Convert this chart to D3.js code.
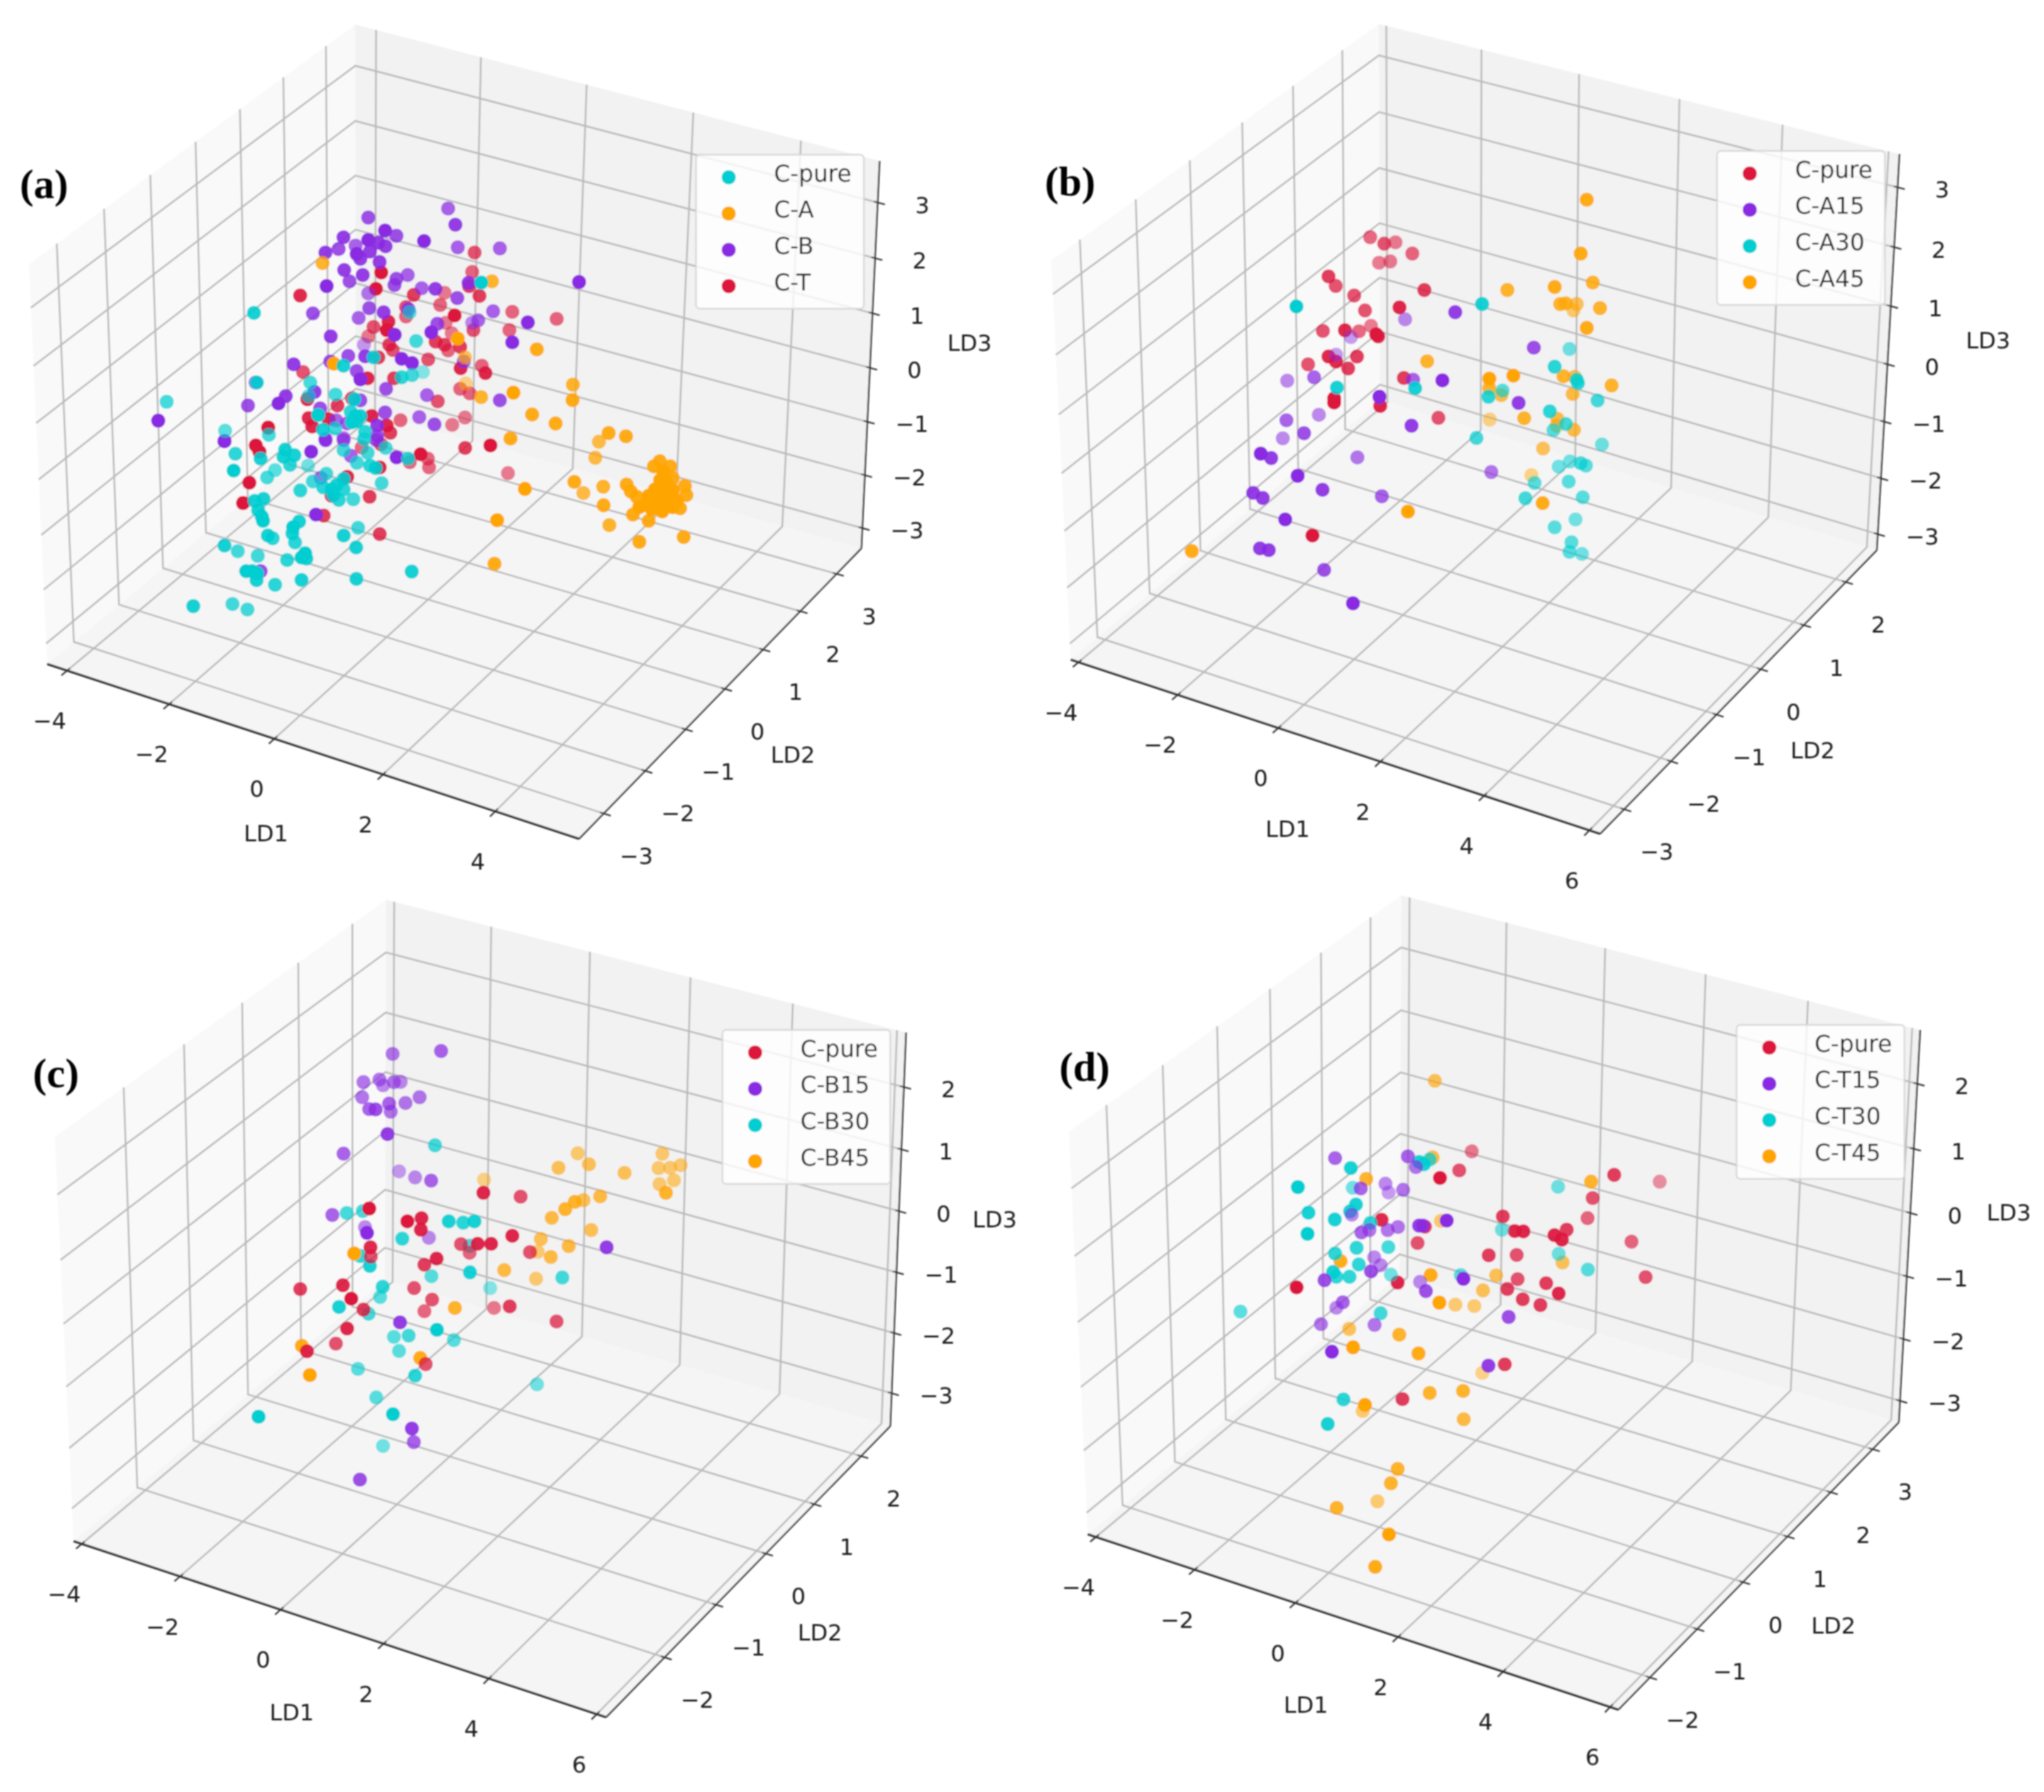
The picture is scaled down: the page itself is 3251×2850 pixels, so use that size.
<!DOCTYPE html>
<html>
<head>
<meta charset="utf-8">
<script src="https://cdn.jsdelivr.net/npm/d3@7"></script>
<style>
  html, body { margin: 0; background: #fff; }
  text { font-family: "DejaVu Sans", sans-serif; fill: #1c1c1c; }
</style>
</head>
<body>
<div id="chart"></div>
<script>
// tick values of each panel
var ld1TicksA = [-4, -2, 0, 2, 4];
var ld1TicksRest = [-4, -2, 0, 2, 4, 6];
var ld2TicksA = [-3, -2, -1, 0, 1, 2, 3];
var ld2TicksB = [-3, -2, -1, 0, 1, 2];
var ld2TicksC = [-2, -1, 0, 1, 2];
var ld2TicksD = [-2, -1, 0, 1, 2, 3];
var ld3TicksAB = [-3, -2, -1, 0, 1, 2, 3];
var ld3TicksCD = [-3, -2, -1, 0, 1, 2];

// legend names
var namesA = ["C-pure", "C-A", "C-B", "C-T"];
var namesB = ["C-pure", "C-A15", "C-A30", "C-A45"];
var namesC = ["C-pure", "C-B15", "C-B30", "C-B45"];
var namesD = ["C-pure", "C-T15", "C-T30", "C-T45"];

// Points are [view h, view v, depth]. depth 0 = nearest, 1 = farthest.
// Panel (a), upper part of the cloud
var aUpperPurple = [[1340,95,.3],[1370,172,.1],[1008,138,.2],[1078,200,0],[1125,225,.2],[905,232,.1],[1240,250,0],[1380,280,.3],[1555,285,.3],[885,288,.2],[830,305,.1],[955,272,.3],[1008,245,0],[1050,258,.1],[1080,275,.1],[1015,300,.1],[960,312,0],[975,335,.1],[1055,350,.1],[908,388,.1],[930,442,.2],[985,412,.1],[835,465,0],[1172,412,.3],[1125,430,.2],[1117,460,.2],[1230,475,.3],[1287,478,.1],[1425,450,.1],[1378,522,.2],[1008,500,.4],[1012,570,.2],[1072,590,.1],[778,595,.2],[968,617,.3],[1175,575,.2],[1527,585,.3],[1465,628,.3],[1440,640,.5],[1295,645,.2],[1270,685,0],[1118,697,0],[852,705,.1],[990,745,.6],[925,798,.2],[995,800,.1],[698,838,.1],[850,825,.2],[1147,812,0],[1190,832,0],[1405,825,.3],[960,870,.2],[975,910,0],[540,925,.3],[1082,955,.2],[785,970,.1],[1252,985,.3],[665,990,.1],[635,1025,0],[508,1035,.2],[1555,1010,.2],[975,1010,.2],[808,1048,.2],[1078,1068,.2],[1220,1090,.3],[135,1107,0],[1283,1125,.2],[875,1105,.3],[920,1120,.3],[1045,1130,.1],[1045,1180,.2],[905,1190,.4],[410,1205,.1],[830,1195,.2]];
var aUpperRed = [[1450,305,.3],[1062,400,0],[1440,397,.4],[1040,478,0],[725,510,.1],[1427,465,.2],[1470,512,.2],[1325,497,.5],[1197,507,.2],[1307,555,.4],[1165,565,.3],[1165,610,.4],[1367,605,0],[1092,635,.1],[1030,660,.3],[1085,675,0],[1330,640,.5],[1445,675,.3],[1008,705,.5],[1355,690,.5],[1095,745,.2],[1288,730,.2],[1110,770,.3],[1325,745,.2],[1340,772,.4],[1390,755,.2],[1050,805,.2],[1257,815,.3],[1480,845,.4],[737,875,.3],[1392,857,.1],[1495,880,.1],[1005,905,.1],[1115,905,.2],[1390,955,.4],[1430,977,.4],[755,1005,.1],[940,1000,.3],[1297,1015,.3],[880,1035,.2],[1022,1085,.1],[1142,1105,.4],[1410,1092,.5],[1357,1127,.5],[760,1095,.1],[843,1100,.1],[775,1135,.1],[592,1140,0],[1085,1130,.1],[1100,1165,.2]];
var aUpperCyan = [[533,593,.1],[1478,448,0],[1207,727,.3],[905,845,.1],[1030,805,.1],[1180,590,.4],[545,925,.1],[767,925,.3],[170,1017,.3],[1147,900,.2],[1190,890,.3],[1235,875,.6],[872,982,.3],[950,1005,.1],[935,1065,.2],[955,1085,.1],[975,1085,.1],[940,1115,0],[800,1080,0],[820,1150,.1],[870,1145,.3],[413,1155,.4],[595,1175,.3],[995,1160,.2],[990,1195,.2],[960,1110,.1],[760,990,.4]];
var aUpperOrange = [[818,355,.2],[1522,442,.2],[1380,715,0],[865,835,0],[1410,805,.4],[1413,930,.6],[1477,995,.2]];
// Panel (a), lower part of the cloud
var aLowerCyan = [[325,65,.2],[430,88,.1],[532,45,.1],[570,72,.1],[525,80,.1],[552,118,.2],[318,145,0],[490,143,.4],[457,178,.3],[627,122,.5],[775,48,.3],[875,60,.3],[950,37,.3],[830,108,.3],[885,122,.2],[908,133,.1],[1043,88,.2],[703,160,.3],[647,197,.3],[595,240,.2],[690,225,.2],[775,185,.1],[745,215,.1],[725,235,.1],[775,235,.2],[755,285,.2],[815,282,.3],[732,262,.1],[933,205,.3],[405,290,.1],[442,280,.1],[420,335,.1],[435,365,0],[440,385,0],[590,388,.1],[565,415,0],[562,445,.1],[573,488,.2],[460,455,.1],[480,468,.2],[835,418,.3],[775,455,.1],[827,512,.1],[280,503,.1],[335,530,.3],[418,552,.3],[540,572,.2],[615,540,0],[620,565,.1],[600,560,0],[370,625,0],[395,625,0],[415,635,0],[413,668,.1],[490,690,.2],[600,667,.1],[828,662,.1],[1058,627,.1],[150,792,.1],[313,782,.3],[375,808,.3]];
var aLowerPurple = [[280,5,0],[640,55,0],[700,0,.1],[775,0,.3],[805,75,.3],[680,180,.3],[995,82,0],[660,355,0],[430,625,.2],[912,0,.2]];
var aLowerRed = [[410,25,0],[425,55,0],[383,203,0],[357,300,0],[692,360,.2],[925,448,.2],[883,270,.2],[1095,67,0],[1130,130,.4],[1125,88,.4],[1280,37,.2],[1385,25,0],[925,130,.1],[790,175,.1],[850,35,.4],[725,265,.1],[1050,105,.4],[930,20,.3]];
var aLowerOrange = [[1413,382,0],[1402,590,.1]];
// Panel (a), right part
var aRightOrange = [[268,697,.1],[203,832,0],[368,807,.2],[367,855,.1],[255,900,.1],[320,928,.1],[195,975,.1],[467,958,.1],[515,968,.1],[440,985,.3],[430,1035,.3],[372,1110,.1],[397,1145,.3],[452,1125,.2],[453,1183,.1],[235,1132,0],[469,1245,.2],[552,1297,.1],[675,1282,.1]];
var aRightPurple = [[385,487,0],[243,613,0],[200,675,0]];
var aRightRed = [[200,580,.4],[323,602,.4],[192,637,.4],[188,1083,.5]];
// Panel (a), dense orange knot
var aKnotOrange = [[268,100,.1],[240,125,.1],[318,125,.1],[330,180,.1],[285,150,0],[270,190,0],[300,200,0],[388,218,.1],[395,262,.1],[110,212,.1],[130,245,.1],[158,270,.1],[215,265,0],[245,235,0],[290,240,0],[330,240,0],[270,280,0],[310,290,0],[200,310,0],[170,320,0],[230,330,0],[280,340,0],[330,320,0],[365,325,.1],[140,355,.1],[215,385,.1],[260,310,0],[240,290,0],[350,290,0],[300,260,0]];

// Panel (b)
var bRed = [[830,327,.4],[865,346,.3],[893,342,.5],[935,375,.4],[852,402,.5],[880,398,.5],[726,442,.2],[744,470,.3],[965,482,.2],[790,498,.3],[903,533,.1],[817,542,.3],[832,587,.5],[712,602,.3],[767,600,.1],[802,603,.4],[845,612,0],[850,618,.1],[726,677,.1],[797,677,.2],[745,692,.1],[675,700,.3],[775,712,.2],[914,740,.2],[740,800,0],[740,812,0],[855,822,.1],[1000,857,.3],[686,1202,0]];
var bPurple = [[1042,547,.1],[917,568,.5],[782,620,.6],[745,672,.6],[1238,651,.2],[690,738,.3],[623,748,.5],[937,745,.3],[1010,747,0],[853,795,0],[1200,813,.1],[702,848,.5],[621,864,.3],[933,880,.1],[665,902,.2],[612,917,.5],[557,962,0],[583,975,.1],[798,973,.4],[1132,1016,.4],[649,1027,0],[711,1068,.1],[538,1077,.1],[562,1092,.1],[859,1087,.3],[618,1155,0],[555,1240,.1],[577,1245,.1],[715,1303,.2],[787,1401,0]];
var bCyan = [[646,530,0],[1109,523,.1],[1327,655,.5],[1290,707,.2],[1345,745,.2],[1348,755,.2],[747,768,.1],[942,770,.1],[1160,777,.4],[1125,795,.2],[1397,806,.3],[1278,838,.2],[1318,875,.3],[1287,893,.4],[1095,916,.3],[1408,935,.5],[1300,1000,.5],[1328,985,.5],[1355,990,.3],[1368,997,.4],[1325,1044,.4],[1240,1048,.4],[1217,1093,.3],[1360,1090,.4],[1342,1155,.5],[1290,1178,.4],[1332,1222,.4],[1327,1250,.4],[1358,1256,.5]];
var bOrange = [[1370,217,.1],[1355,375,.1],[1385,460,.2],[1172,482,.2],[1290,473,.1],[1304,523,.2],[1318,521,.2],[1345,523,.4],[1337,542,.5],[1403,535,.2],[1370,593,.1],[972,691,.2],[1127,742,0],[1187,733,0],[1312,735,.2],[1340,737,.3],[1127,770,.2],[1432,762,.2],[1335,787,.3],[1157,790,.3],[1128,862,.6],[1214,858,.2],[1297,860,.3],[1295,880,.4],[1338,892,.3],[1261,947,.4],[1232,1025,.6],[1260,1107,.1],[924,1132,0],[385,1248,.1]];

// Panel (c)
var cPurple = [[689,101,.3],[538,110,.4],[447,198,.4],[497,190,.4],[508,208,.5],[542,198,.4],[563,197,.5],[443,245,.4],[622,245,.4],[578,263,.4],[527,265,.3],[465,282,.3],[485,283,.2],[532,290,.4],[522,360,.1],[385,421,.3],[558,476,.6],[608,495,.5],[658,505,.3],[350,612,.3],[452,650,.5],[458,668,0],[651,683,.5],[1205,713,.1],[561,947,.1],[598,1278,.1],[604,1320,.3],[436,1437,.2]];
var cRed = [[465,592,0],[584,632,0],[628,622,.1],[626,658,.1],[469,713,.1],[470,742,.3],[751,703,.3],[803,702,.1],[845,702,.1],[778,730,.4],[911,677,.1],[966,728,.3],[821,543,.1],[937,555,.3],[675,748,.1],[637,767,.2],[250,843,.2],[383,831,.1],[409,873,0],[605,840,.3],[661,876,.3],[637,912,.4],[447,907,.2],[396,966,.1],[361,1013,.3],[271,1037,.1],[641,1077,.3],[854,902,.5],[903,897,.2],[1049,944,.3]];
var cCyan = [[670,395,.3],[395,606,.3],[445,600,.3],[713,632,.1],[758,636,.2],[793,632,.1],[568,686,.2],[778,708,.3],[437,740,.2],[467,771,.1],[779,791,.1],[659,803,.4],[507,836,.2],[499,868,.4],[842,840,.6],[1067,807,.3],[371,899,.1],[463,920,.3],[676,970,0],[542,992,.4],[588,988,.3],[729,1002,.4],[558,1036,.4],[430,1092,.4],[608,1113,.2],[988,1140,.5],[487,1181,.4],[539,1233,0],[120,1241,0],[508,1332,.5]];
var cOrange = [[823,502,.6],[1115,420,.5],[1150,454,.4],[1055,465,.4],[1261,481,.4],[1379,421,.5],[1367,466,.5],[1403,465,.5],[1436,457,.5],[1415,504,.5],[1370,516,.5],[1390,543,.2],[1185,554,.3],[1133,566,.4],[1106,571,.2],[1076,594,.2],[1034,621,.3],[1157,659,.4],[1000,687,.4],[1087,709,.3],[990,727,.5],[1031,743,.3],[418,732,0],[886,784,.3],[985,811,.5],[732,902,.2],[255,1020,.1],[624,1058,.1],[280,1111,0]];

// Panel (d)
var dOrange = [[749,127,.4],[742,352,.3],[535,415,.2],[1236,423,.2],[768,538,.5],[1147,660,.4],[455,656,.1],[736,697,.1],[940,698,.4],[899,742,.4],[763,778,0],[813,784,.5],[872,788,.5],[482,855,.4],[638,872,.2],[494,909,0],[698,927,.1],[897,984,.6],[733,1043,.2],[837,1037,.2],[531,1078,0],[524,1096,.5],[839,1120,.3],[633,1266,.2],[612,1308,.2],[570,1361,.5],[443,1380,.2],[606,1458,0],[563,1553,.1]];
var dPurple = [[438,354,.3],[665,349,.3],[690,380,.4],[595,429,.5],[605,455,.6],[650,447,.4],[518,443,.3],[490,520,.5],[786,537,0],[700,552,.1],[712,552,.2],[634,556,.4],[602,565,.4],[520,572,.3],[545,565,.4],[560,645,.5],[580,668,.5],[550,686,.2],[405,712,.2],[703,717,.5],[721,744,.2],[838,708,0],[462,777,.3],[442,793,.5],[394,841,.4],[561,843,.4],[979,820,.2],[428,922,0],[916,963,.1]];
var dRed = [[864,334,.5],[825,390,.3],[765,412,0],[1308,403,.2],[1450,423,.6],[1241,471,.3],[1225,530,.4],[961,525,.2],[583,535,.1],[718,555,.2],[998,568,.1],[1025,569,.1],[1160,564,.2],[1122,580,.1],[1145,593,.1],[695,603,.3],[1362,599,.4],[917,639,.2],[1004,638,.3],[1007,709,.3],[1096,721,.2],[1406,703,.3],[633,719,.1],[318,733,0],[975,738,.2],[1135,751,.1],[1023,768,.2],[1078,785,.2],[967,959,.2],[648,1061,.2]];
var dCyan = [[322,439,0],[487,383,.1],[493,441,.5],[700,365,.1],[733,358,.3],[715,372,.1],[1133,438,.5],[503,490,.1],[485,510,.1],[355,514,.1],[437,534,.1],[548,544,.2],[352,576,0],[958,564,.5],[505,617,.2],[604,615,.3],[1135,635,.5],[438,634,.2],[512,666,.2],[1226,681,.4],[432,688,.1],[442,702,.2],[483,702,.2],[612,696,.5],[830,697,.4],[143,804,.4],[580,809,.3],[464,1062,.2],[415,1134,.1]];

var width = 3251, height = 2850;
var cyan = "#00ced1", orange = "#ffa500", purple = "#8a2be2", crimson = "#dc143c";

// view scales: from the units the points were read in to the page
function view(hMax, xRange, vMax, yRange) {
  return {
    x: d3.scaleLinear().domain([0, hMax]).range(xRange),
    y: d3.scaleLinear().domain([0, vMax]).range(yRange)
  };
}

var panels = [
  {
    tag: "(a)", tagAt: [70, 292],
    L: [75, 1056], F: [921, 1334], R: [1370, 872], B: [566, 650],
    LT: [46, 420], BT: [565, 39], RT: [1399, 256],
    ld1: [-4.4, 5.45], ld2: [-3.58, 3.7], ld3: [-3.385, 3.74],
    ld1Ticks: ld1TicksA, ld2Ticks: ld2TicksA, ld3Ticks: ld3TicksAB,
    ld1At: [423, 1325], ld2At: [1261, 1200], ld3At: [1542, 545],
    legendAt: [1107, 246], names: namesA, colors: [cyan, orange, purple, crimson],
    layers: [
      { color: crimson, view: view(1568, [200, 800], 1500, [300, 800]), pts: aUpperRed },
      { color: crimson, view: view(1568, [250, 850], 900, [700, 1000]), pts: aLowerRed },
      { color: crimson, view: view(1568, [700, 1600], 1568, [200, 1000]), pts: aRightRed },
      { color: purple, view: view(1568, [200, 800], 1500, [300, 800]), pts: aUpperPurple },
      { color: purple, view: view(1568, [250, 850], 900, [700, 1000]), pts: aLowerPurple },
      { color: purple, view: view(1568, [700, 1600], 1568, [200, 1000]), pts: aRightPurple },
      { color: orange, view: view(1568, [200, 800], 1500, [300, 800]), pts: aUpperOrange },
      { color: orange, view: view(1568, [250, 850], 900, [700, 1000]), pts: aLowerOrange },
      { color: orange, view: view(1568, [700, 1600], 1568, [200, 1000]), pts: aRightOrange },
      { color: orange, view: view(480, [960, 1120], 480, [700, 860]), pts: aKnotOrange },
      { color: cyan, view: view(1568, [200, 800], 1500, [300, 800]), pts: aUpperCyan },
      { color: cyan, view: view(1568, [250, 850], 900, [700, 1000]), pts: aLowerCyan }
    ]
  },
  {
    tag: "(b)", tagAt: [1702, 288],
    L: [1703, 1049], F: [2545, 1326], R: [2985, 875], B: [2195, 636],
    LT: [1672, 414], BT: [2193, 38], RT: [3021, 245],
    ld1: [-4.16, 6.2], ld2: [-3.5, 2.76], ld3: [-3.29, 3.55],
    ld1Ticks: ld1TicksRest, ld2Ticks: ld2TicksB, ld3Ticks: ld3TicksAB,
    ld1At: [2048, 1318], ld2At: [2883, 1193], ld3At: [3162, 541],
    legendAt: [2731, 240], names: namesB, colors: [crimson, purple, cyan, orange],
    layers: [
      { color: crimson, view: view(1568, [1650, 2650], 1568, [200, 1050]), pts: bRed },
      { color: purple, view: view(1568, [1650, 2650], 1568, [200, 1050]), pts: bPurple },
      { color: orange, view: view(1568, [1650, 2650], 1568, [200, 1050]), pts: bOrange },
      { color: cyan, view: view(1568, [1650, 2650], 1568, [200, 1050]), pts: bCyan }
    ]
  },
  {
    tag: "(c)", tagAt: [89, 1706],
    L: [117, 2451], F: [964, 2731], R: [1416, 2268], B: [612, 2035],
    LT: [87, 1808], BT: [614, 1431], RT: [1441, 1642],
    ld1: [-4.17, 6.17], ld2: [-3.1, 2.64], ld3: [-3.55, 2.87],
    ld1Ticks: ld1TicksRest, ld2Ticks: ld2TicksC, ld3Ticks: ld3TicksCD,
    ld1At: [464, 2723], ld2At: [1304, 2596], ld3At: [1582, 1939],
    legendAt: [1149, 1638], names: namesC, colors: [crimson, purple, cyan, orange],
    layers: [
      { color: cyan, view: view(1568, [350, 1150], 1568, [1620, 2420]), pts: cCyan },
      { color: purple, view: view(1568, [350, 1150], 1568, [1620, 2420]), pts: cPurple },
      { color: orange, view: view(1568, [350, 1150], 1568, [1620, 2420]), pts: cOrange },
      { color: crimson, view: view(1568, [350, 1150], 1568, [1620, 2420]), pts: cRed }
    ]
  },
  {
    tag: "(d)", tagAt: [1725, 1696],
    L: [1730, 2440], F: [2574, 2719], R: [3020, 2262], B: [2226, 2028],
    LT: [1700, 1800], BT: [2229, 1424], RT: [3054, 1638],
    ld1: [-4.17, 6.15], ld2: [-2.65, 3.64], ld3: [-3.35, 2.82],
    ld1Ticks: ld1TicksRest, ld2Ticks: ld2TicksD, ld3Ticks: ld3TicksCD,
    ld1At: [2077, 2711], ld2At: [2916, 2585], ld3At: [3195, 1928],
    legendAt: [2762, 1630], names: namesD, colors: [crimson, purple, cyan, orange],
    layers: [
      { color: orange, view: view(1568, [1900, 2700], 1568, [1650, 2500]), pts: dOrange },
      { color: crimson, view: view(1568, [1900, 2700], 1568, [1650, 2500]), pts: dRed },
      { color: cyan, view: view(1568, [1900, 2700], 1568, [1650, 2500]), pts: dCyan },
      { color: purple, view: view(1568, [1900, 2700], 1568, [1650, 2500]), pts: dPurple }
    ]
  }
];

var svg = d3.select("#chart").append("svg")
  .attr("width", width)
  .attr("height", height);

// the reference is a soft upscaled image
svg.append("filter").attr("id", "soft")
  .attr("filterUnits", "userSpaceOnUse")
  .attr("x", 0).attr("y", 0)
  .attr("width", width).attr("height", height)
  .append("feGaussianBlur").attr("stdDeviation", 0.9);

var root = svg.append("g").attr("filter", "url(#soft)");
var opacity = d3.scaleLinear().domain([0, 1]).range([1, 0.1]);
var line = d3.line();
var tickFormat = d3.format("d");

// perspective map of the unit square onto a quad p0(0,0) p1(1,0) p2(1,1) p3(0,1)
function quadMap(p0, p1, p2, p3) {
  var dx1 = p1[0] - p2[0], dx2 = p3[0] - p2[0], sx = p0[0] - p1[0] + p2[0] - p3[0];
  var dy1 = p1[1] - p2[1], dy2 = p3[1] - p2[1], sy = p0[1] - p1[1] + p2[1] - p3[1];
  var den = dx1 * dy2 - dx2 * dy1;
  var g = (sx * dy2 - dx2 * sy) / den, h = (dx1 * sy - sx * dy1) / den;
  var a = p1[0] - p0[0] + g * p1[0], b = p3[0] - p0[0] + h * p3[0];
  var d = p1[1] - p0[1] + g * p1[1], e = p3[1] - p0[1] + h * p3[1];
  return function(u, v) {
    var w = g * u + h * v + 1;
    return [(a * u + b * v + p0[0]) / w, (d * u + e * v + p0[1]) / w];
  };
}

function drawPanel(p) {
  var g = root.append("g");
  var u1 = d3.scaleLinear().domain(p.ld1).range([0, 1]);
  var u2 = d3.scaleLinear().domain(p.ld2).range([0, 1]);
  var u3 = d3.scaleLinear().domain(p.ld3).range([0, 1]);
  var floor = quadMap(p.L, p.F, p.R, p.B);
  var leftWall = quadMap(p.L, p.B, p.BT, p.LT);
  var backWall = quadMap(p.B, p.R, p.RT, p.BT);

  // panes
  g.append("path").attr("d", line([p.L, p.B, p.BT, p.LT]) + "Z").attr("fill", "#f9f9f9");
  g.append("path").attr("d", line([p.B, p.R, p.RT, p.BT]) + "Z").attr("fill", "#f2f2f2");
  g.append("path").attr("d", line([p.L, p.F, p.R, p.B]) + "Z").attr("fill", "#f5f5f5");

  var grid = g.append("g").attr("fill", "none").attr("stroke", "#bababa").attr("stroke-width", 2.8);
  var ticks = g.append("g").attr("stroke", "#333").attr("stroke-width", 2.4);
  var labels = g.append("g").attr("font-size", 36).attr("text-anchor", "middle").attr("dominant-baseline", "central");

  function tickMark(at, dir) {
    var n = Math.hypot(dir[0], dir[1]);
    var dx = dir[0] / n, dy = dir[1] / n;
    ticks.append("path").attr("d", line([[at[0] - dx * 6, at[1] - dy * 6], [at[0] + dx * 12, at[1] + dy * 12]]));
  }

  p.ld1Ticks.forEach(function(t) {
    var u = u1(t), front = floor(u, 0), back = floor(u, 1);
    grid.append("path").attr("d", line([front, back, backWall(u, 1)]));
    tickMark(front, [front[0] - back[0], front[1] - back[1]]);
    labels.append("text").attr("x", front[0] - 28).attr("y", front[1] + 80).text(tickFormat(t));
  });

  p.ld2Ticks.forEach(function(t) {
    var v = u2(t), right = floor(1, v), left = floor(0, v);
    grid.append("path").attr("d", line([right, left, leftWall(v, 1)]));
    tickMark(right, [right[0] - left[0], right[1] - left[1]]);
    labels.append("text").attr("x", right[0] + 52).attr("y", right[1] + 68).text(tickFormat(t));
  });

  p.ld3Ticks.forEach(function(t) {
    var w = u3(t), a = backWall(1, w), b = backWall(0, w);
    grid.append("path").attr("d", line([leftWall(0, w), b, a]));
    tickMark(a, [a[0] - b[0], a[1] - b[1]]);
    labels.append("text").attr("x", a[0] + 71).attr("y", a[1] + 4).text(tickFormat(t));
  });

  // axis lines
  var axes = g.append("g").attr("fill", "none").attr("stroke", "#333");
  axes.append("path").attr("d", line([p.L, p.F])).attr("stroke-width", 3.6);
  axes.append("path").attr("d", line([p.F, p.R])).attr("stroke-width", 2.6);
  axes.append("path").attr("d", line([p.R, p.RT])).attr("stroke-width", 2.6);

  labels.append("text").attr("x", p.ld1At[0]).attr("y", p.ld1At[1]).text("LD1");
  labels.append("text").attr("x", p.ld2At[0]).attr("y", p.ld2At[1]).text("LD2");
  labels.append("text").attr("x", p.ld3At[0]).attr("y", p.ld3At[1]).text("LD3");

  // points
  p.layers.forEach(function(layer) {
    g.append("g").selectAll("circle")
      .data(layer.pts)
      .enter()
      .append("circle")
      .attr("cx", function(d) { return layer.view.x(d[0]); })
      .attr("cy", function(d) { return layer.view.y(d[1]); })
      .attr("r", 11.2)
      .attr("fill", layer.color)
      .attr("fill-opacity", function(d) { return opacity(d[2]); });
  });

  // legend
  var lg = g.append("g").attr("transform", "translate(" + p.legendAt[0] + "," + p.legendAt[1] + ")");
  lg.append("rect").attr("width", 267).attr("height", 245).attr("rx", 6)
    .attr("fill", "#fff").attr("fill-opacity", 0.8).attr("stroke", "#d6d6d6").attr("stroke-width", 2.4);
  var item = d3.scalePoint().domain(p.names).range([36, 209]);
  p.names.forEach(function(name, i) {
    lg.append("circle").attr("cx", 52).attr("cy", item(name)).attr("r", 11.2).attr("fill", p.colors[i]);
    lg.append("text").attr("x", 124).attr("y", item(name) - 6)
      .attr("font-size", 37).attr("dominant-baseline", "central").text(name);
  });

  root.append("text")
    .attr("x", p.tagAt[0]).attr("y", p.tagAt[1])
    .attr("text-anchor", "middle").attr("dominant-baseline", "central")
    .style("font-family", '"Liberation Serif", serif')
    .style("fill", "#000")
    .attr("font-weight", "bold").attr("font-size", 66)
    .text(p.tag);
}

panels.forEach(drawPanel);
</script>
</body>
</html>
